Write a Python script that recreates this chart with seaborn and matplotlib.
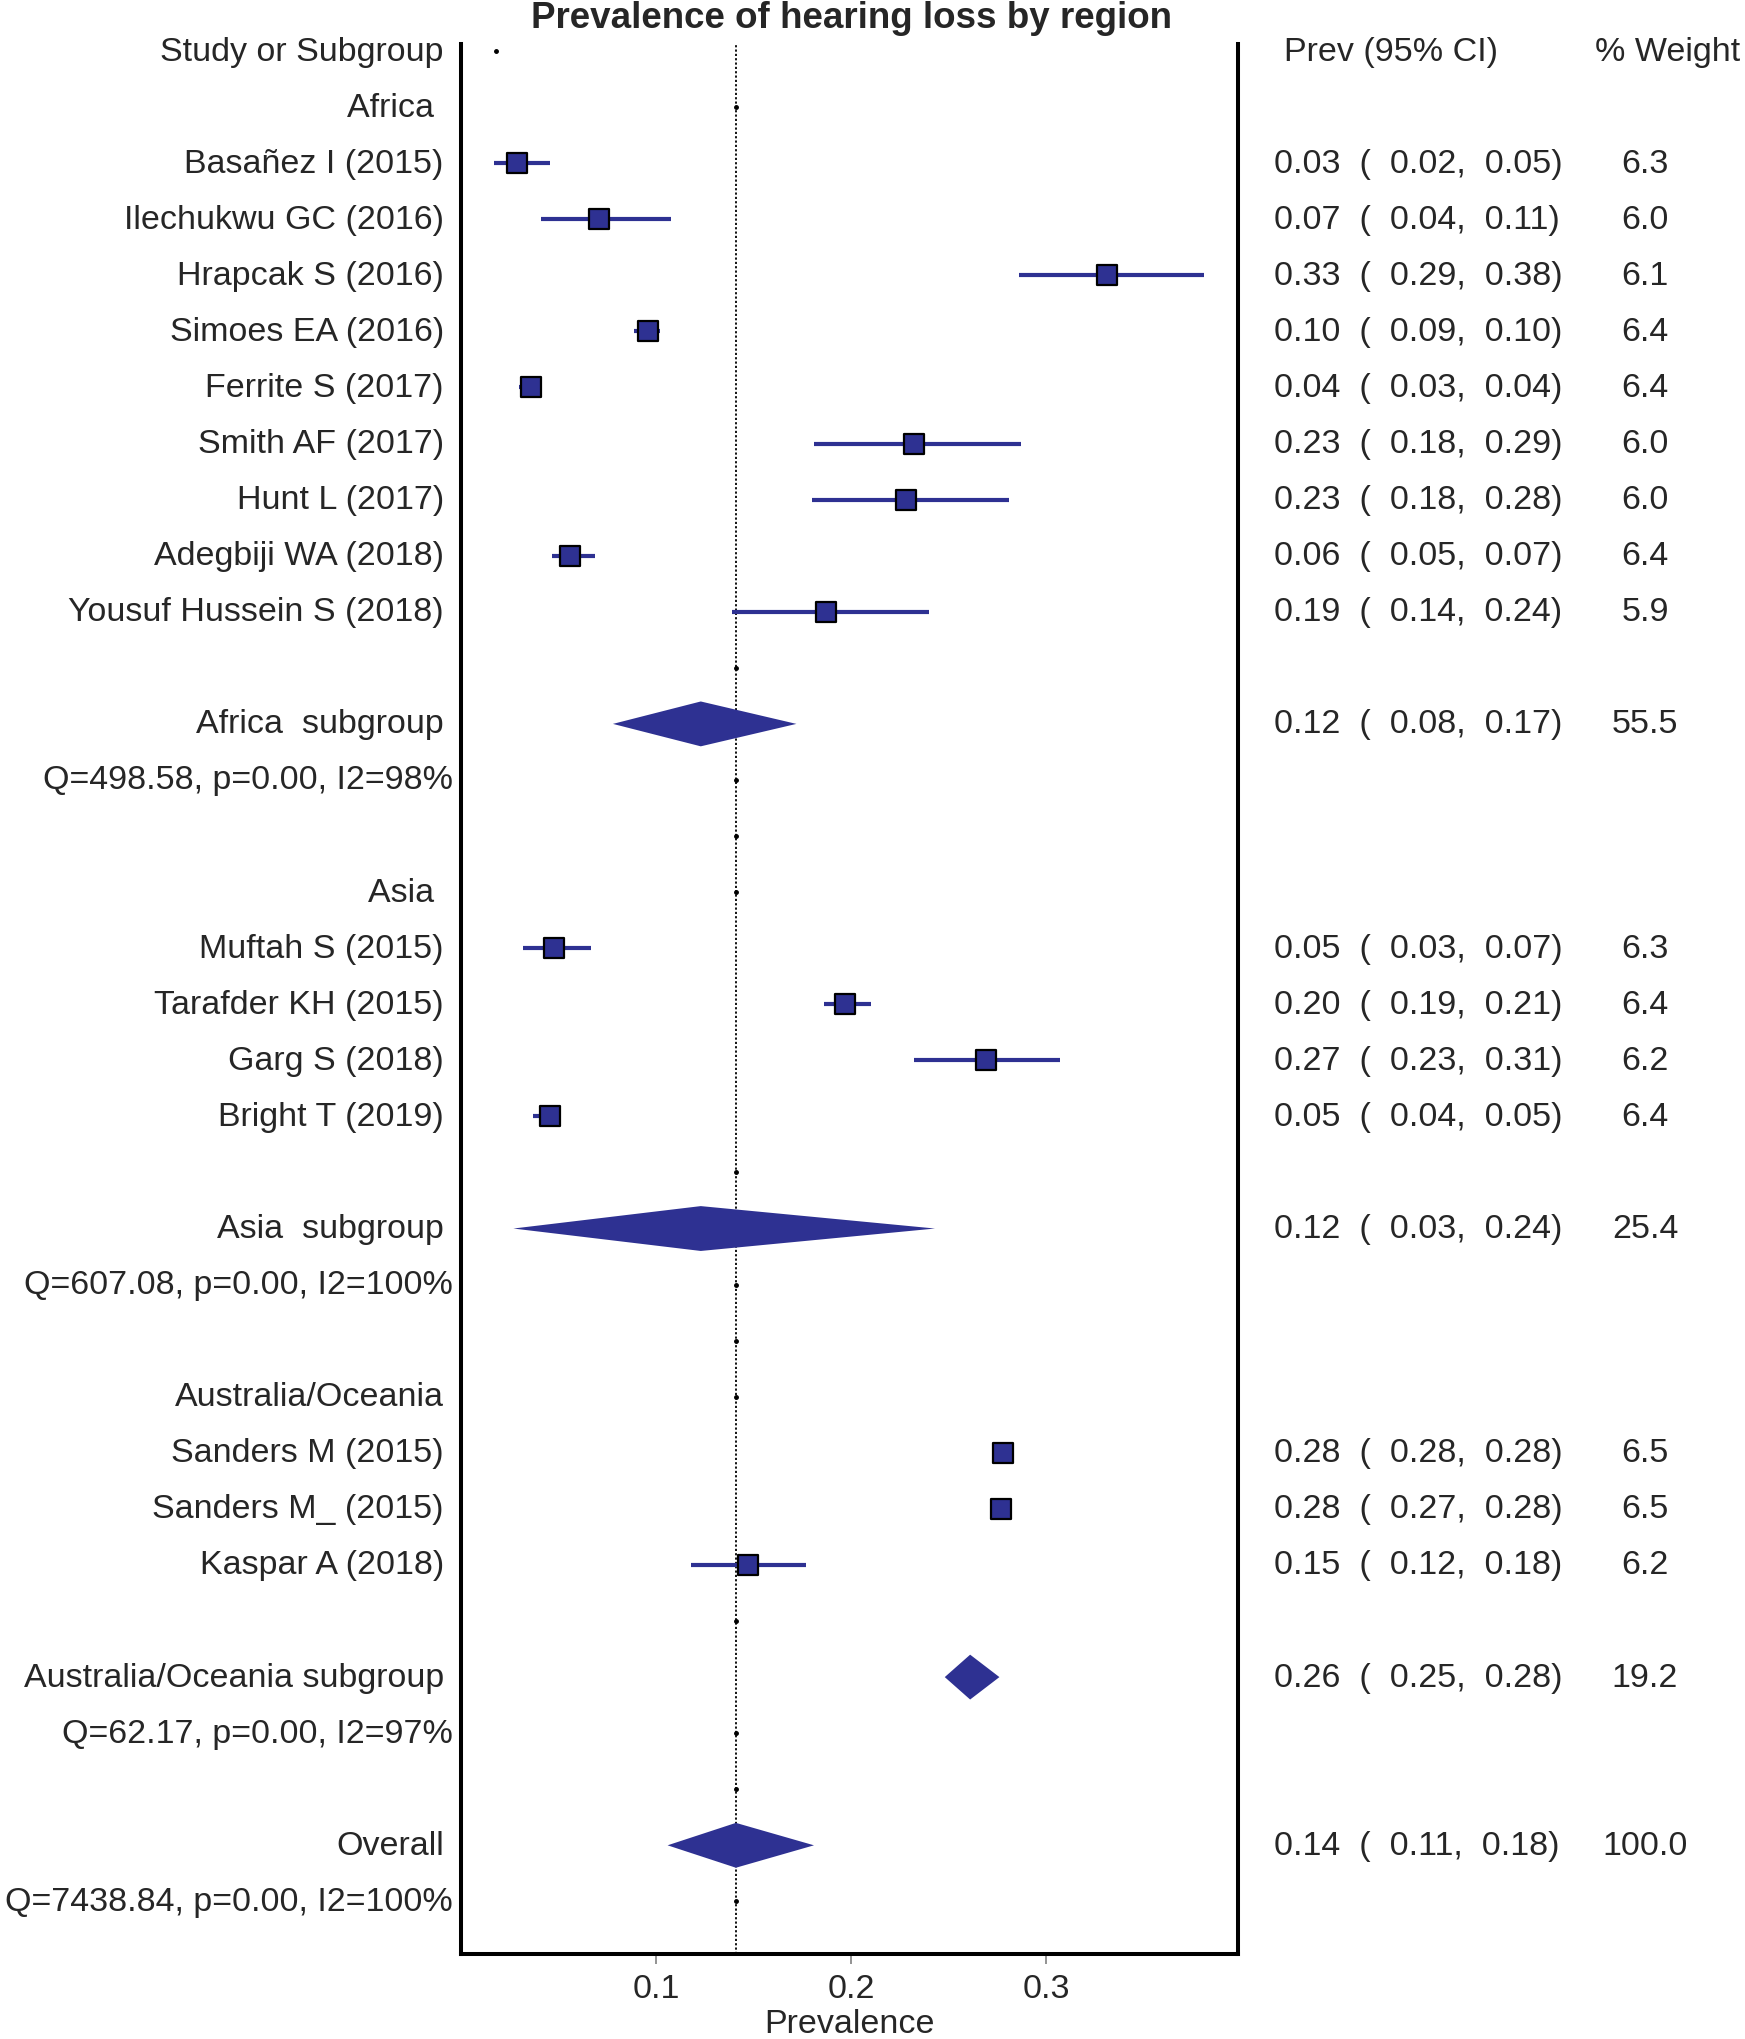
import seaborn as sns
import pandas as pd
import matplotlib.pyplot as plt
from matplotlib import transforms

navy = "#2E3192"

regions = ["Africa", "Asia", "Australia/Oceania"]

studies = ["Basañez I (2015)", "Ilechukwu GC (2016)", "Hrapcak S (2016)", "Simoes EA (2016)",
           "Ferrite S (2017)", "Smith AF (2017)", "Hunt L (2017)", "Adegbiji WA (2018)",
           "Yousuf Hussein S (2018)",
           "Muftah S (2015)", "Tarafder KH (2015)", "Garg S (2018)", "Bright T (2019)",
           "Sanders M (2015)", "Sanders M_ (2015)", "Kaspar A (2018)"]
study_region = ["Africa"] * 9 + ["Asia"] * 4 + ["Australia/Oceania"] * 3
est = [0.029, 0.071, 0.331, 0.096, 0.036, 0.232, 0.228, 0.056, 0.187,
       0.048, 0.197, 0.269, 0.046,
       0.278, 0.277, 0.147]
lo = [0.017, 0.041, 0.286, 0.089, 0.030, 0.181, 0.180, 0.047, 0.139,
      0.032, 0.186, 0.232, 0.037,
      0.276, 0.274, 0.118]
hi = [0.046, 0.108, 0.381, 0.102, 0.041, 0.287, 0.281, 0.069, 0.240,
      0.067, 0.210, 0.307, 0.051,
      0.280, 0.279, 0.177]
weight = [6.3, 6.0, 6.1, 6.4, 6.4, 6.0, 6.0, 6.4, 5.9,
          6.3, 6.4, 6.2, 6.4,
          6.5, 6.5, 6.2]

sub_est = [0.123, 0.123, 0.261]
sub_lo = [0.078, 0.027, 0.248]
sub_hi = [0.172, 0.243, 0.276]
sub_weight = [55.5, 25.4, 19.2]
sub_q = ["Q=498.58, p=0.00, I2=98%", "Q=607.08, p=0.00, I2=100%", "Q=62.17, p=0.00, I2=97%"]

overall_est, overall_lo, overall_hi = 0.141, 0.106, 0.181
overall_weight = 100.0
overall_q = "Q=7438.84, p=0.00, I2=100%"

# ---- row layout
df = pd.DataFrame({"study": studies, "region": study_region, "est": est,
                   "lo": lo, "hi": hi, "weight": weight})
rows = []
headers = []
subs = []
spacer_rows = []
r = 1
for reg in regions:
    headers.append((reg, r))
    spacer_rows.append(r)
    n = (df.region == reg).sum()
    rows += list(range(r + 1, r + 1 + n))
    last = r + n
    spacer_rows += [last + 1, last + 3, last + 4]
    subs.append(last + 2)
    r = last + 5
df["row"] = rows
overall_row = r
spacer_rows = [s for s in spacer_rows if s < overall_row] + [overall_row + 1]

sns.set_theme(style="white")
plt.rcParams["font.family"] = ["Liberation Sans", "DejaVu Sans"]
fs = 24.5

fig = plt.figure(figsize=(17.45, 20.4), dpi=100)
ax = fig.add_axes([0.2640, 0.0419, 0.4452, 0.9358])

ax.axvline(overall_est, color="black", lw=1.3, ls=(0, (1.2, 1.2)), zorder=1)
ax.hlines(df.row, df.lo, df.hi, color=navy, lw=3.0, zorder=2)
sns.scatterplot(data=df, x="est", y="row", marker="s", s=200, color=navy,
                edgecolor="black", linewidth=1.6, ax=ax, zorder=3, legend=False)

h = 0.4
for e, l, u, rr in zip(sub_est + [overall_est], sub_lo + [overall_lo],
                       sub_hi + [overall_hi], subs + [overall_row]):
    ax.fill([l, e, u, e], [rr, rr - h, rr, rr + h], color=navy, lw=0, zorder=2)

ax.plot([overall_est] * len(spacer_rows), spacer_rows, ls="none", marker="o",
        ms=2.5, color="black", zorder=2)
ax.plot([0.018], [0], ls="none", marker="o", ms=2.5, color="black")

ax.set_xlim(0, 0.398)
ax.set_ylim(33.93, -0.117)
ax.set_yticks([])
ax.set_xticks([0.1, 0.2, 0.3])
ax.set_xticklabels(["0.1", "0.2", "0.3"])
ax.tick_params(axis="x", direction="out", length=7, width=1.2, color="gray",
               labelsize=fs, pad=7, bottom=True)
ax.set_xlabel("Prevalence", fontsize=fs, labelpad=3)
ax.set_ylabel("")
for s in ["left", "right", "bottom"]:
    ax.spines[s].set_color("black")
    ax.spines[s].set_linewidth(2.9)
ax.spines["top"].set_visible(False)

tr = transforms.blended_transform_factory(fig.transFigure, ax.transData)
xl, xq, xv, xw = 0.2543, 0.2595, 0.7301, 0.9427

ax.text(xl, 0, "Study or Subgroup", transform=tr, ha="right", va="center", fontsize=fs)
ax.text(0.7358, 0, "Prev (95% CI)", transform=tr, ha="left", va="center", fontsize=fs)
ax.text(0.914, 0, "% Weight", transform=tr, ha="left", va="center", fontsize=fs)


def right_cols(rr, e, l, u, w):
    ax.text(xv, rr, f"{e:.2f}  (  {l:.2f},  {u:.2f})", transform=tr,
            ha="left", va="center", fontsize=fs)
    ax.text(xw, rr, f"{w:.1f}", transform=tr, ha="center", va="center", fontsize=fs)


for reg, rr in headers:
    ax.text(xl, rr, reg + (" " if reg != "Australia/Oceania" else ""), transform=tr,
            ha="right", va="center", fontsize=fs)
for _, d in df.iterrows():
    ax.text(xl, d.row, d.study, transform=tr, ha="right", va="center", fontsize=fs)
    right_cols(d.row, d.est, d.lo, d.hi, d.weight)
for reg, rr, e, l, u, w, q in zip(regions, subs, sub_est, sub_lo, sub_hi, sub_weight, sub_q):
    name = reg + "  subgroup" if reg != "Australia/Oceania" else reg + " subgroup"
    ax.text(xl, rr, name, transform=tr, ha="right", va="center", fontsize=fs)
    ax.text(xq, rr + 1, q, transform=tr, ha="right", va="center", fontsize=fs)
    right_cols(rr, e, l, u, w)
ax.text(xl, overall_row, "Overall", transform=tr, ha="right", va="center", fontsize=fs)
ax.text(xq, overall_row + 1, overall_q, transform=tr, ha="right", va="center", fontsize=fs)
right_cols(overall_row, overall_est, overall_lo, overall_hi, overall_weight)

fig.text(0.488, 0.9995, "Prevalence of hearing loss by region", ha="center", va="top",
         fontsize=26.5, fontweight="bold")

fig.savefig("out.png", dpi=100)
